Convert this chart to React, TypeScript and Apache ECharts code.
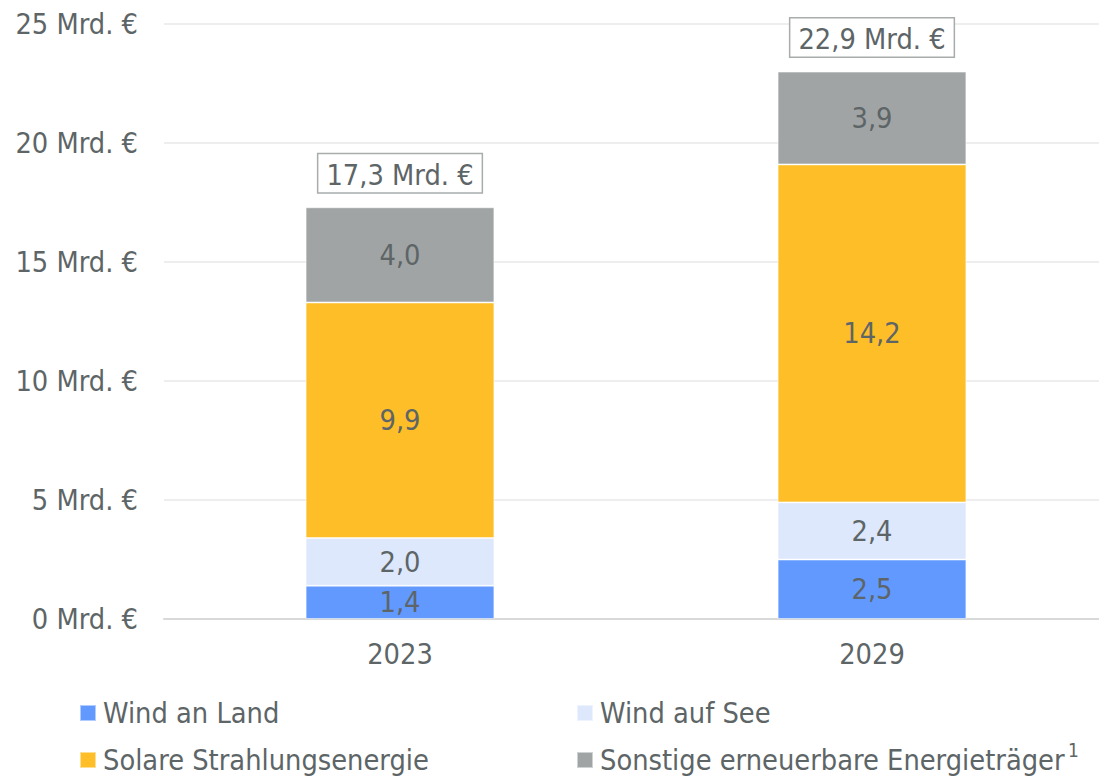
import React, { useEffect, useRef } from "react";
import * as echarts from "echarts";

const categories = ["2023", "2029"];
const windLand = [1.4, 2.5];
const windSee = [2.0, 2.4];
const solar = [9.9, 14.2];
const sonstige = [4.0, 3.9];
const totals = [17.3, 22.9];
const seriesNames = [
  "Wind an Land",
  "Wind auf See",
  "Solare Strahlungsenergie",
  "Sonstige erneuerbare Energieträger",
];
const footnoteMark = "1";
const colors = ["#6299FF", "#DDE8FD", "#FEBE28", "#A0A4A4"];
const yTicks = { min: 0, max: 25, interval: 5 };

const FONT = "'DejaVu Sans Condensed', 'DejaVu Sans', sans-serif";
const FS = 28.7;
const TEXT = "#5D6567";
const fmt = (v: number) => v.toFixed(1).replace(".", ",");

export default function App() {
  const ref = useRef<HTMLDivElement>(null);
  useEffect(() => {
    if (!ref.current) return;
    const chart = echarts.init(ref.current, null, { renderer: "svg" });
    const values = [windLand, windSee, solar, sonstige];
    const series: any[] = values.map((d, i) => ({
      name: seriesNames[i],
      type: "bar",
      stack: "total",
      barWidth: "40%",
      data: d,
      itemStyle: { color: colors[i], borderColor: "rgba(255,255,255,0.5)", borderWidth: 1 },
      label: {
        show: true,
        position: "inside",
        formatter: (p: any) => fmt(p.value),
        color: TEXT,
        fontFamily: FONT,
        fontSize: FS,
      },
    }));
    series.push({
      name: "total",
      type: "bar",
      stack: "total",
      barWidth: "40%",
      data: totals.map(() => 0),
      itemStyle: { color: "transparent" },
      label: {
        show: true,
        position: "top",
        distance: 15,
        formatter: (p: any) => fmt(totals[p.dataIndex]) + " Mrd. €",
        color: TEXT,
        fontFamily: FONT,
        fontSize: FS,
        backgroundColor: "#ffffff",
        borderColor: "#A8ACAC",
        borderWidth: 1.5,
        padding: [6, 8, 3, 8],
      },
    });
    const legendPos = [
      { left: 79, top: 698 },
      { left: 576, top: 698 },
      { left: 79, top: 745 },
      { left: 576, top: 745 },
    ];
    const legend = seriesNames.map((n, i) => ({
      data: [n],
      left: legendPos[i].left,
      top: legendPos[i].top,
      padding: 0,
      itemWidth: 16,
      itemHeight: 16,
      icon: "rect",
      selectedMode: false,
      textStyle: {
        color: TEXT,
        fontFamily: FONT,
        fontSize: FS,
        lineHeight: 30,
        padding: [0, 0, 0, 2],
      },
    }));
    chart.setOption({
      animation: false,
      grid: { left: 164, right: 0, top: 24, bottom: 158 },
      legend,
      graphic: [
        {
          type: "text",
          left: 1068,
          top: 740,
          style: { text: footnoteMark, fill: TEXT, fontFamily: FONT, fontSize: 19 },
        },
      ],
      xAxis: {
        type: "category",
        data: categories,
        axisLine: { lineStyle: { color: "#D9D9D9", width: 2 } },
        axisTick: { show: false },
        axisLabel: { color: TEXT, fontFamily: FONT, fontSize: FS, margin: 20 },
      },
      yAxis: {
        type: "value",
        min: yTicks.min,
        max: yTicks.max,
        interval: yTicks.interval,
        axisLine: { show: false },
        axisTick: { show: false },
        splitLine: { lineStyle: { color: "#EEEEEE", width: 2 } },
        axisLabel: {
          color: TEXT,
          fontFamily: FONT,
          fontSize: FS,
          margin: 26,
          formatter: "{value} Mrd. €",
        },
      },
      series,
    });
    return () => chart.dispose();
  }, []);
  return (
    <div
      style={{ position: "absolute", left: 0, top: 0, width: 1099, height: 777, overflow: "hidden" }}
    >
      <div ref={ref} style={{ width: 1108, height: 777 }} />
    </div>
  );
}
